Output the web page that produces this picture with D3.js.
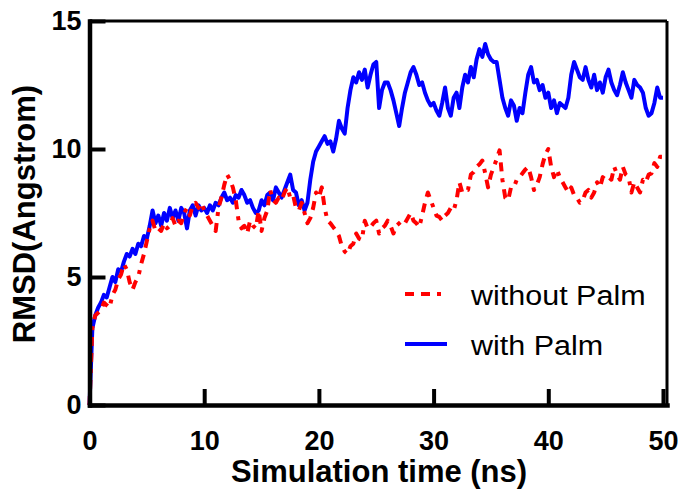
<!DOCTYPE html>
<html>
<head>
<meta charset="utf-8">
<script src="https://cdn.jsdelivr.net/npm/d3@7"></script>
<style>
  body { margin: 0; background: #fff; }
  svg { display: block; }
</style>
</head>
<body>
<div id="container"></div>
<script>
/**
 * CONSTANTS AND GLOBALS
 * */
const width = 678,
  height = 490,
  margin = { top: 21, bottom: 85, left: 89.5, right: 11 };

// sampling interval of the trajectory (ns)
const timeStep = 0.25;

// RMSD (Angstrom), one row = one ns (4 frames)
const withPalm = [
  0, 3.0, 3.5, 3.8,
  4.0, 4.3, 4.2, 4.6,
  5.0, 4.8, 5.3, 5.2,
  5.6, 5.9, 5.8, 6.1,
  5.9, 6.3, 6.2, 6.6,
  6.5, 7.0, 7.6, 7.1,
  7.4, 7.0, 7.5, 7.2,
  7.7, 7.3, 7.6, 7.2,
  7.7, 7.5, 6.9, 7.6,
  7.8, 7.4, 7.8, 7.6,
  7.7, 7.5, 7.8, 7.6,
  7.9, 7.8, 8.1, 8.3,
  8.0, 8.1, 7.9, 8.2,
  8.1, 8.4, 8.2, 7.9,
  8.0, 7.7, 7.5, 7.6,
  8.0, 7.8, 8.2, 8.3,
  8.0, 8.5, 8.3, 8.1,
  8.4, 8.7, 9.0, 8.4,
  8.3, 7.8, 8.0, 7.6,
  7.9, 8.8, 9.5, 9.9,
  10.1, 10.3, 10.5, 10.2,
  10.3, 9.9, 10.4, 11.1,
  10.8, 10.6, 11.6, 12.3,
  12.8, 12.6, 13.0, 12.7,
  13.1, 12.4, 12.9, 13.3,
  13.4, 11.6, 12.3, 12.6,
  12.6, 12.3, 11.9, 11.4,
  10.9, 11.6, 12.2, 12.6,
  13.0, 13.2, 12.9, 12.5,
  12.6, 12.2, 11.9, 11.7,
  11.8, 11.5, 11.3, 11.8,
  12.4, 11.6, 11.3, 12.0,
  12.2, 11.6, 12.4, 12.9,
  12.6, 13.2, 12.8, 13.5,
  13.9, 13.6, 14.1, 13.7,
  13.5, 13.4, 13.4, 12.7,
  12.0, 11.6, 11.3, 11.9,
  11.7, 11.1, 11.6, 11.4,
  12.2, 12.9, 13.2, 12.6,
  12.7, 12.3, 12.5, 12.0,
  12.2, 11.6, 11.9, 11.4,
  11.8, 11.7, 11.6, 12.0,
  12.9, 13.4, 13.1, 12.8,
  12.7, 13.2, 12.7, 12.4,
  12.9, 12.3, 12.6, 12.2,
  12.8, 13.1, 12.6, 12.3,
  12.1, 12.5, 13.0, 12.6,
  12.3, 12.0, 12.7, 12.5,
  12.4, 12.2, 11.6, 11.3,
  11.4, 11.8, 12.4, 12.0,
  12.0
];

const withoutPalm = [
  0, 3.0, 3.5, 3.6,
  3.7, 4.0, 3.9, 3.8,
  4.3, 4.5, 4.9, 5.1,
  5.5, 5.3, 4.8, 4.5,
  4.8, 5.0, 5.5, 5.9,
  6.4, 6.9, 7.2, 6.8,
  6.9, 6.8, 7.1, 6.9,
  7.0, 7.3, 7.0, 7.2,
  7.1, 7.5, 7.7, 7.4,
  7.8, 7.9, 7.7, 7.9,
  7.6, 7.4, 7.2, 7.0,
  6.8, 7.7, 8.1, 8.6,
  9.0, 8.8, 8.5, 8.0,
  7.2, 6.9, 7.0, 6.7,
  7.2, 7.0, 6.9, 7.6,
  6.8, 7.3, 7.6, 8.4,
  8.0, 7.9, 8.1, 8.0,
  8.3, 8.5, 8.1, 8.2,
  7.7, 7.6, 7.9, 7.5,
  7.1, 7.3, 7.7, 8.3,
  8.1, 8.5, 7.7, 7.2,
  7.1, 6.95, 6.8, 6.6,
  6.2, 6.0, 5.9, 6.2,
  6.3, 6.7, 6.5, 6.45,
  7.2, 6.9, 6.95, 7.1,
  7.2, 6.7, 6.9, 7.0,
  7.2, 7.0, 6.7, 7.0,
  7.1, 7.2, 7.1, 7.3,
  7.5, 7.2, 7.1, 6.95,
  7.4, 7.9, 8.3, 8.0,
  7.7, 7.4, 7.35, 7.2,
  7.4, 7.5, 7.7, 7.6,
  8.0, 8.7, 8.3, 8.4,
  8.4, 9.0, 9.1, 9.3,
  9.4, 9.55, 9.05, 8.5,
  9.0, 9.3, 9.6, 9.95,
  8.8, 8.1, 8.0, 8.5,
  8.5, 8.8, 8.9, 9.05,
  9.2, 9.3, 8.9, 8.4,
  8.6, 8.9, 9.4, 9.8,
  10.0, 9.3, 8.9, 9.2,
  8.9, 8.7, 8.5, 8.3,
  8.5, 8.2, 8.1, 7.9,
  8.0, 8.3, 8.4, 8.1,
  8.3, 8.7, 8.5, 8.9,
  8.8, 8.9, 8.8, 9.3,
  9.0, 8.8, 9.3, 9.0,
  8.9, 8.3, 8.7, 8.5,
  8.3, 8.8, 8.7, 9.0,
  9.05, 9.45, 9.3, 9.7,
  9.7
];

const xTicks = [0, 10, 20, 30, 40, 50];
const yTicks = [0, 5, 10, 15];
const legendNames = ["without Palm", "with Palm"];
const xTitle = "Simulation time (ns)";
const yTitle = "RMSD(Angstrom)";

let svg, xScale, yScale;

init();

/**
 * INITIALIZING FUNCTION
 * */
function init() {
  svg = d3.select("#container")
    .append("svg")
    .attr("width", width)
    .attr("height", height)
    .style("background-color", "#fff");

  xScale = d3.scaleLinear()
    .domain([0, 50.35])
    .range([margin.left, width - margin.right]);

  yScale = d3.scaleLinear()
    .domain([0, 15])
    .range([height - margin.bottom, margin.top]);

  draw();
}

/**
 * DRAW FUNCTION
 * */
function draw() {
  const series = [
    { name: legendNames[1], values: withPalm, color: "#0000ff", dash: null },
    { name: legendNames[0], values: withoutPalm, color: "#ff0000", dash: "9,7,9,7,4,7" }
  ];

  const line = d3.line()
    .x((d, i) => xScale(i * timeStep))
    .y(d => yScale(d));

  // blue first, red dashed on top
  svg.selectAll(".series")
    .data(series)
    .join("path")
    .attr("class", "series")
    .attr("d", d => line(d.values))
    .attr("fill", "none")
    .attr("stroke", d => d.color)
    .attr("stroke-width", 4)
    .attr("stroke-linejoin", "round")
    .attr("stroke-dasharray", d => d.dash);

  // frame: top and right
  svg.append("line")
    .attr("x1", xScale(0)).attr("x2", xScale(50.35))
    .attr("y1", yScale(15)).attr("y2", yScale(15))
    .attr("stroke", "#000").attr("stroke-width", 3);
  svg.append("line")
    .attr("x1", xScale(50.35)).attr("x2", xScale(50.35))
    .attr("y1", yScale(15)).attr("y2", yScale(0))
    .attr("stroke", "#000").attr("stroke-width", 3);

  const xAxis = d3.axisBottom(xScale)
    .tickValues(xTicks)
    .tickSizeInner(-16)
    .tickSizeOuter(0)
    .tickPadding(26);

  const yAxis = d3.axisLeft(yScale)
    .tickValues(yTicks)
    .tickSizeInner(-16)
    .tickSizeOuter(0)
    .tickPadding(8);

  const gx = svg.append("g")
    .attr("transform", `translate(0,${yScale(0)})`)
    .call(xAxis);

  const gy = svg.append("g")
    .attr("transform", `translate(${xScale(0)},0)`)
    .call(yAxis);

  [gx, gy].forEach(g => {
    g.select(".domain").attr("stroke-width", 4.5).attr("stroke-linecap", "square");
    g.selectAll(".tick line").attr("stroke-width", 4);
    g.selectAll(".tick text")
      .attr("fill", "#000")
      .style("font-family", "'Liberation Sans', Arial, sans-serif")
      .style("font-weight", "bold")
      .style("font-size", "27px");
  });

  // axis titles
  svg.append("text")
    .attr("x", 379)
    .attr("y", 482)
    .attr("text-anchor", "middle")
    .style("font-family", "'Liberation Sans', Arial, sans-serif")
    .style("font-weight", "bold")
    .style("font-size", "31px")
    .text(xTitle);

  svg.append("text")
    .attr("transform", "translate(35,214) rotate(-90)")
    .attr("text-anchor", "middle")
    .style("font-family", "'Liberation Sans', Arial, sans-serif")
    .style("font-weight", "bold")
    .style("font-size", "31px")
    .text(yTitle);

  // legend
  const legend = svg.append("g")
    .attr("transform", "translate(405,294)");

  const items = legend.selectAll("g")
    .data(series.slice().reverse())
    .join("g")
    .attr("transform", (d, i) => `translate(0,${i * 50})`);

  items.append("line")
    .attr("x1", 0).attr("x2", 42)
    .attr("stroke", d => d.color)
    .attr("stroke-width", 4)
    .attr("stroke-dasharray", d => d.dash);

  items.append("text")
    .attr("transform", "translate(66,10.5) scale(1.13,1)")
    .style("font-family", "'Liberation Sans', Arial, sans-serif")
    .style("font-size", "27px")
    .attr("fill", "#000")
    .text(d => d.name);
}
</script>
</body>
</html>
